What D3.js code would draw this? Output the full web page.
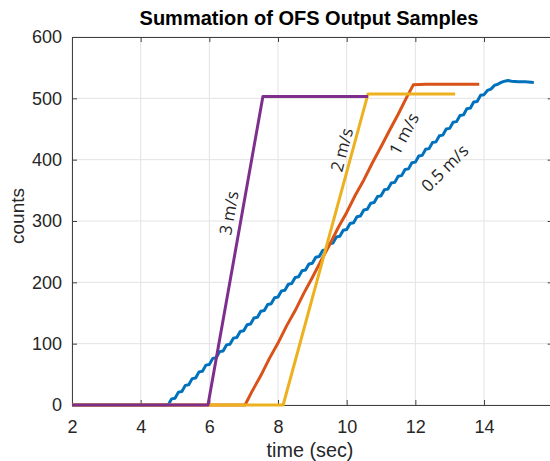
<!DOCTYPE html>
<html>
<head>
<meta charset="utf-8">
<script src="https://cdn.jsdelivr.net/npm/d3@7"></script>
<style>
  body { margin: 0; background: #fff; }
  svg { display: block; }
</style>
</head>
<body>
<svg id="chart"></svg>
<script>
// data
const xTicks = [2, 4, 6, 8, 10, 12, 14];
const yTicks = [0, 100, 200, 300, 400, 500, 600];

const blueTime = [2, 4.8, 4.9, 5.0, 5.1, 5.2, 5.3, 5.4, 5.5, 5.6, 5.7, 5.8, 5.9, 6.0, 6.1, 6.2, 6.3, 6.4, 6.5, 6.6, 6.7, 6.8, 6.9,
  7.0, 7.1, 7.2, 7.3, 7.4, 7.5, 7.6, 7.7, 7.8, 7.9, 8.0, 8.1, 8.2, 8.3, 8.4, 8.5, 8.6, 8.7, 8.8, 8.9,
  9.0, 9.1, 9.2, 9.3, 9.4, 9.5, 9.6, 9.7, 9.8, 9.9, 10.0, 10.1, 10.2, 10.3, 10.4, 10.5, 10.6, 10.7, 10.8, 10.9,
  11.0, 11.1, 11.2, 11.3, 11.4, 11.5, 11.6, 11.7, 11.8, 11.9, 12.0, 12.1, 12.2, 12.3, 12.4, 12.5, 12.6, 12.7, 12.8, 12.9,
  13.0, 13.1, 13.2, 13.3, 13.4, 13.5, 13.6, 13.7, 13.8, 13.9, 14.0, 14.1, 14.2, 14.3, 14.4, 14.5, 14.6, 14.7, 14.8, 15.0, 15.2, 15.45];
const blueCounts = [0, 0, 10, 11, 21, 22, 32, 33, 43, 44, 54, 55, 65, 66, 76, 77, 87, 88, 98, 99, 109, 110, 120,
  121, 131, 132, 142, 143, 153, 154, 164, 165, 175, 176, 186, 187, 197, 198, 208, 209, 219, 220, 230,
  231, 241, 242, 252, 253, 263, 264, 274, 275, 285, 286, 296, 297, 307, 308, 318, 319, 329, 330, 340,
  341, 351, 352, 362, 363, 373, 374, 384, 385, 395, 396, 406, 407, 417, 418, 428, 429, 439, 440, 450,
  451, 461, 462, 472, 473, 483, 484, 494, 495, 505, 506, 513, 515, 521, 523, 526, 528, 529, 528, 527, 527, 526];

const orangeTime = [2, 7.04, 7.25, 7.5, 7.75, 8.0, 8.25, 8.5, 8.75, 9.0, 9.25, 9.5, 9.75, 10.0, 10.25, 10.5, 10.75, 11.0, 11.25, 11.5, 11.75, 11.94, 12.3, 13.86];
const orangeCounts = [0, 0, 23, 48, 76, 101, 129, 154, 182, 208, 235, 261, 289, 314, 342, 367, 395, 421, 448, 474, 502, 522, 523, 523];

const yellowTime = [2, 8.15, 10.62, 13.16];
const yellowCounts = [0, 0, 507, 507];

const purpleTime = [2, 5.96, 7.56, 10.62];
const purpleCounts = [0, 0, 503, 503];

const seriesNames = ['0.5 m/s', '1 m/s', '2 m/s', '3 m/s'];
const seriesColors = ['#0072BD', '#D95319', '#EDB120', '#7E2F8E'];

const width = 550, height = 461;
const margin = { top: 37, left: 72 };
const plotW = 480.7, plotH = 368;

const svg = d3.select('#chart').attr('width', width).attr('height', height);

const x = d3.scaleLinear().domain([2, 16]).range([margin.left, margin.left + plotW]);
const y = d3.scaleLinear().domain([0, 600]).range([margin.top + plotH, margin.top]);

// grid
svg.append('g').selectAll('line.vg')
  .data(xTicks).enter().append('line')
  .attr('x1', d => x(d)).attr('x2', d => x(d))
  .attr('y1', y(0)).attr('y2', y(600))
  .attr('stroke', '#e3e3e3').attr('stroke-width', 1);
svg.append('g').selectAll('line.hg')
  .data(yTicks).enter().append('line')
  .attr('x1', x(2)).attr('x2', x(16))
  .attr('y1', d => y(d)).attr('y2', d => y(d))
  .attr('stroke', '#e3e3e3').attr('stroke-width', 1);

// axes (inward ticks, box)
const axisColor = '#262626';
const tickFont = '"Liberation Sans", Arial, sans-serif';
const axBottom = svg.append('g')
  .attr('transform', `translate(0,${y(0)})`)
  .call(d3.axisBottom(x).tickValues(xTicks).tickSize(-5).tickPadding(15).tickSizeOuter(0));
const axLeft = svg.append('g')
  .attr('transform', `translate(${x(2)},0)`)
  .call(d3.axisLeft(y).tickValues(yTicks).tickSize(-5).tickPadding(10).tickSizeOuter(0));
const axTop = svg.append('g')
  .attr('transform', `translate(0,${y(600)})`)
  .call(d3.axisTop(x).tickValues(xTicks).tickSize(-5).tickFormat('').tickSizeOuter(0));
const axRight = svg.append('g')
  .attr('transform', `translate(${x(16)},0)`)
  .call(d3.axisRight(y).tickValues(yTicks).tickSize(-5).tickFormat('').tickSizeOuter(0));

[axBottom, axLeft, axTop, axRight].forEach(g => {
  g.selectAll('path, line').attr('stroke', '#404040').attr('stroke-width', 1);
  g.selectAll('text')
    .attr('fill', axisColor)
    .style('font-family', tickFont)
    .style('font-size', '18px');
});

// lines
const line = d3.line().x(d => x(d[0])).y(d => y(d[1]));
const series = [
  d3.zip(blueTime, blueCounts),
  d3.zip(orangeTime, orangeCounts),
  d3.zip(yellowTime, yellowCounts),
  d3.zip(purpleTime, purpleCounts)
];
svg.append('g').selectAll('path')
  .data(series).enter().append('path')
  .attr('d', line)
  .attr('fill', 'none')
  .attr('stroke', (d, i) => seriesColors[i])
  .attr('stroke-width', 3)
  .attr('stroke-linejoin', 'round');

// inline labels, rotated along each line
const labelT = [12.86, 11.67, 9.86, 6.57];
const labelC = [386, 442, 416, 313];
const labelAngle = [-45, -62, -75, -80];
svg.append('g').selectAll('text')
  .data(seriesNames).enter().append('text')
  .attr('transform', (d, i) => `translate(${x(labelT[i])},${y(labelC[i])}) rotate(${labelAngle[i]})`)
  .attr('text-anchor', 'middle')
  .attr('dy', '0.35em')
  .attr('fill', '#262626')
  .style('font-family', '"Open Sans", sans-serif')
  .style('font-size', '17px')
  .text(d => d);

// titles
svg.append('text')
  .attr('x', 309).attr('y', 25)
  .attr('text-anchor', 'middle')
  .attr('fill', '#000')
  .style('font-family', tickFont)
  .style('font-size', '20px')
  .style('font-weight', 'bold')
  .text('Summation of OFS Output Samples');

svg.append('text')
  .attr('x', 310).attr('y', 457)
  .attr('text-anchor', 'middle')
  .attr('fill', axisColor)
  .style('font-family', tickFont)
  .style('font-size', '19.8px')
  .text('time (sec)');

svg.append('text')
  .attr('transform', `translate(24,216) rotate(-90)`)
  .attr('text-anchor', 'middle')
  .attr('fill', axisColor)
  .style('font-family', tickFont)
  .style('font-size', '19px')
  .text('counts');
</script>
</body>
</html>
